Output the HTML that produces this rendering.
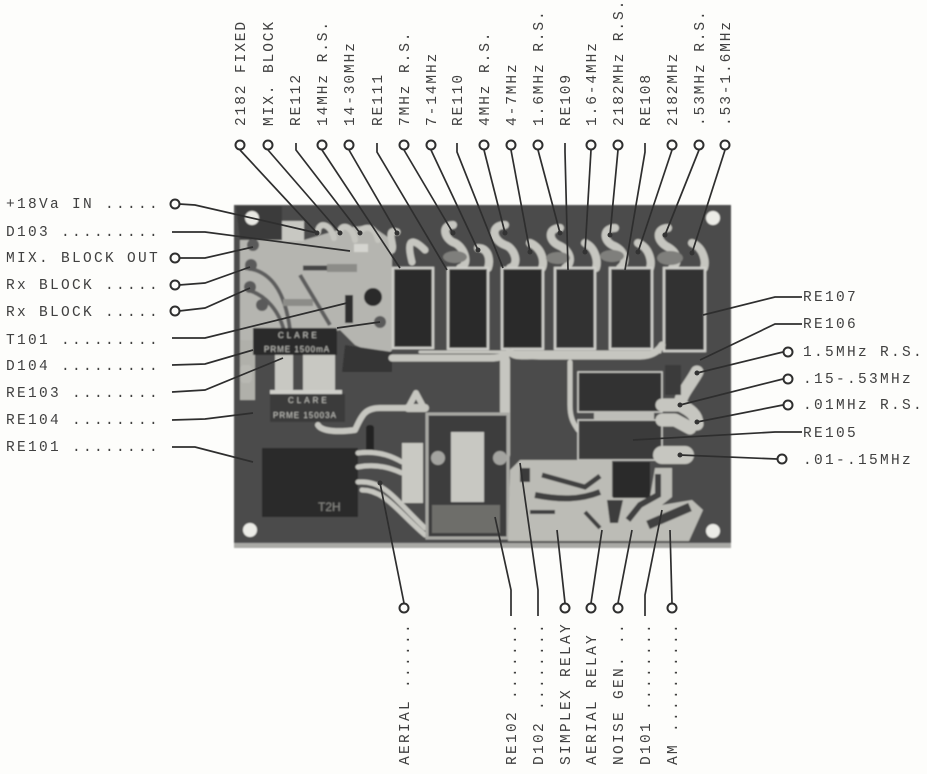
<!DOCTYPE html>
<html><head><meta charset="utf-8"><style>
html,body{margin:0;padding:0;background:#fdfdfb;width:927px;height:774px;overflow:hidden}
svg{display:block}
.t{font-family:"Liberation Mono",monospace;font-size:14.5px;fill:#404040;letter-spacing:2.3px}
.v{letter-spacing:1.9px}
.ln{fill:none;stroke:#2e2e2e;stroke-width:1.7}
.c{fill:#fdfdfb;stroke:#2e2e2e;stroke-width:2}
.dot{fill:#333}
.tr{fill:none;stroke:#c6c6c0;stroke-linecap:round;stroke-linejoin:round}
.rl{fill:#2b2b2b;stroke:#cfcfca;stroke-width:2.5}
</style></head><body>
<svg width="927" height="774" viewBox="0 0 927 774" xmlns="http://www.w3.org/2000/svg">
<defs><filter id="b" x="-5%" y="-5%" width="110%" height="110%"><feGaussianBlur stdDeviation="0.9"/></filter></defs>
<rect width="927" height="774" fill="#fdfdfb"/>
<g filter="url(#b)">
<!-- board -->
<rect x="234" y="205" width="497" height="343" fill="#4b4b4b"/>
<rect x="234" y="543" width="497" height="5" fill="#a9a9a5"/>
<!-- upper-left light area -->
<path d="M240 240 L275 232 L300 225 L304 240 L345 228 L370 225 L392 240 L392 350 L385 358 L355 345 L340 330 L240 358Z" fill="#b5b5b0"/>
<rect x="240" y="340" width="15" height="60" fill="#b0b0aa"/>
<path d="M236 206 H282 V240 H240Z" fill="#3a3a3a"/>
<rect x="282" y="221" width="22" height="20" fill="#c8c8c2"/>
<path d="M345 345 L392 352 V372 H342Z" fill="#363636"/>
<!-- arcs in upper left -->
<path d="M245 268 C270 270 285 290 290 330" fill="none" stroke="#5d5d5d" stroke-width="4"/>
<path d="M248 290 C265 295 280 310 285 335" fill="none" stroke="#5d5d5d" stroke-width="4"/>
<path d="M300 275 L330 325" fill="none" stroke="#5d5d5d" stroke-width="4"/>
<path d="M303 268 H355" stroke="#444" stroke-width="5"/>
<rect x="327" y="264" width="30" height="8" fill="#8c8c88"/>
<rect x="283" y="299" width="30" height="7" fill="#8c8c88"/>
<circle cx="373" cy="297" r="9" fill="#2a2a2a"/>
<rect x="345" y="295" width="8" height="28" fill="#2d2d2d"/>
<rect x="354" y="244" width="14" height="8" fill="#d5d5d0"/>
<!-- top pads -->
<path d="M318 232 C318 222 330 222 334 238 M340 232 C340 224 352 224 355 240 M360 232 C365 225 375 226 378 240" class="tr" stroke-width="6"/>
<path d="M397 232 C385 228 395 245 392 250 M425 250 C415 240 405 235 412 262" class="tr" stroke-width="7"/>
<path d="M453 225 C440 225 445 240 455 243 C465 248 470 265 460 268" class="tr" stroke-width="8"/>
<path d="M478 248 C490 248 490 262 488 268" class="tr" stroke-width="8"/>
<path d="M505 225 C490 225 492 240 505 245 C515 248 520 265 510 268" class="tr" stroke-width="8"/>
<path d="M530 243 C542 248 545 262 542 268" class="tr" stroke-width="8"/>
<path d="M560 228 C548 228 548 240 558 245 C570 250 574 262 565 268" class="tr" stroke-width="8"/>
<path d="M585 243 C596 248 598 262 596 268" class="tr" stroke-width="8"/>
<path d="M615 228 C603 228 603 240 612 245 C625 250 628 262 620 268" class="tr" stroke-width="8"/>
<path d="M638 243 C650 248 652 262 650 268" class="tr" stroke-width="8"/>
<path d="M668 228 C656 228 656 240 666 246 C678 252 680 262 672 268" class="tr" stroke-width="8"/>
<path d="M692 243 C704 248 706 262 704 268" class="tr" stroke-width="8"/>
<ellipse cx="455" cy="257" rx="12" ry="6" fill="#7f7f7b"/>
<ellipse cx="558" cy="258" rx="12" ry="6" fill="#7f7f7b"/>
<ellipse cx="612" cy="256" rx="12" ry="6" fill="#7f7f7b"/>
<ellipse cx="670" cy="258" rx="13" ry="7" fill="#7f7f7b"/>
<!-- relays -->
<rect class="rl" x="393" y="268" width="40" height="80"/>
<rect class="rl" x="448" y="268" width="40" height="81"/>
<rect class="rl" x="502" y="268" width="41" height="81"/>
<rect class="rl" x="555" y="268" width="40" height="81" style="fill:#333"/>
<rect class="rl" x="610" y="268" width="42" height="81" style="fill:#333"/>
<rect class="rl" x="664" y="268" width="41" height="83" style="fill:#333"/>
<!-- horizontal trace under relays -->
<path d="M392 358 H490 C500 358 505 356 510 352 C515 358 525 355 540 356 H640 C650 356 658 352 662 345" class="tr" stroke-width="7"/>
<path d="M420 352 H660" class="tr" stroke-width="3"/>
<path d="M505 360 V455" class="tr" stroke-width="10"/>
<path d="M570 362 V405 C570 420 575 425 578 430" class="tr" stroke-width="5"/>
<!-- Clare relays -->
<rect x="253" y="328" width="84" height="27" fill="#2c2c2c"/>
<path d="M275 355 H293 V392 H275Z M303 355 H335 V392 H303Z" fill="#c8c8c2"/>
<rect x="270" y="390" width="72" height="4" fill="#cfcfca"/>
<rect x="270" y="394" width="75" height="28" fill="#3a3a3a"/>
<rect x="240" y="365" width="12" height="18" rx="4" fill="#b8b8b2"/>
<text x="278" y="338" font-family="Liberation Sans" font-size="8" fill="#c8c8c2" letter-spacing="3">CLARE</text>
<text x="264" y="352" font-family="Liberation Sans" font-size="8" fill="#c8c8c2" letter-spacing="1">PRME 1500mA</text>
<text x="288" y="403" font-family="Liberation Sans" font-size="8" fill="#c8c8c2" letter-spacing="3">CLARE</text>
<text x="273" y="418" font-family="Liberation Sans" font-size="8" fill="#c8c8c2" letter-spacing="1">PRME 15003A</text>
<!-- curved trace -->
<path d="M318 425 C322 432 340 432 355 430 C362 415 365 408 380 408 H408 L416 393 L424 408" class="tr" stroke-width="6"/>
<path d="M408 408 H425" class="tr" stroke-width="8"/>
<!-- diode -->
<rect x="366" y="425" width="8" height="28" rx="3" fill="#242424"/>
<!-- RE101 -->
<rect x="262" y="448" width="96" height="69" fill="#2b2b2b"/>
<text x="318" y="511" font-family="Liberation Sans" font-size="12" fill="#8a8a86">T2H</text>
<!-- wires -->
<path d="M358 453 C380 450 395 458 402 462 M358 467 C380 463 395 470 402 473 M358 482 C385 480 395 500 425 528 M362 490 C385 490 398 512 425 535" class="tr" stroke-width="5"/>
<rect x="402" y="443" width="21" height="60" fill="#c9c9c3"/>
<!-- module -->
<rect x="427" y="414" width="81" height="124" fill="#3c3c3c" stroke="#a9a9a4" stroke-width="3"/>
<rect x="451" y="432" width="33" height="70" fill="#c8c8c2"/>
<circle cx="438" cy="458" r="7" fill="#a4a4a0"/><circle cx="500" cy="458" r="7" fill="#a4a4a0"/>
<rect x="432" y="505" width="68" height="28" fill="#6e6e6a"/>
<!-- right relays -->
<rect x="578" y="372" width="84" height="40" fill="#333" stroke="#cfcfca" stroke-width="1.5"/>
<rect x="578" y="420" width="84" height="40" fill="#3a3a3a" stroke="#cfcfca" stroke-width="1.5"/>
<rect x="594" y="412" width="60" height="8" fill="#bdbdb8"/>
<!-- right pads -->
<path d="M697 372 C690 385 680 395 680 405 C690 410 697 415 697 424 M662 405 H682 M662 420 H675 L690 428" class="tr" stroke-width="13"/>
<path d="M662 455 H685" class="tr" stroke-width="18"/>
<rect x="665" y="365" width="16" height="30" fill="#3b3b3b"/>
<!-- lower right light zone -->
<path d="M508 541 L510 470 L520 460 H612 V497 H650 L655 468 H672 V497 L662 505 L692 500 L703 510 L689 541Z" fill="#bcbcb6"/>
<rect x="613" y="462" width="37" height="36" fill="#2b2b2b"/>
<path d="M607 500 H623 L618 523 H610Z" fill="#3c3c3c"/>
<path d="M658 474 V495 L640 505 L628 520" fill="none" stroke="#3f3f3f" stroke-width="6"/>
<path d="M542 475 L585 487 L600 476" fill="none" stroke="#3f3f3f" stroke-width="5"/>
<path d="M535 495 C560 500 580 500 600 492" fill="none" stroke="#3f3f3f" stroke-width="6"/>
<path d="M648 525 L690 507" fill="none" stroke="#3f3f3f" stroke-width="9"/>
<path d="M530 512 H555 M585 512 L600 528" fill="none" stroke="#3f3f3f" stroke-width="4"/>
<rect x="520" y="468" width="10" height="14" fill="#3a3a3a"/>
<!-- holes -->
<circle cx="252" cy="218" r="7" fill="#e8e8e3"/>
<circle cx="713" cy="218" r="7" fill="#ecece7"/>
<circle cx="250" cy="530" r="7" fill="#ecece7"/>
<circle cx="713" cy="531" r="7" fill="#ecece7"/>
<!-- left pads -->
<circle cx="253" cy="245" r="6" fill="#5a5a5a"/><circle cx="251" cy="265" r="6" fill="#5a5a5a"/><circle cx="250" cy="287" r="6" fill="#5a5a5a"/><circle cx="262" cy="305" r="6" fill="#5a5a5a"/>
<circle cx="380" cy="322" r="6" fill="#5a5a5a"/>
</g>
<g class="ln">
<path d="M240 150L317 233"/><path d="M268 150L340 233"/><path d="M296 143V150L360 233"/><path d="M322 150L400 268"/><path d="M349 150L397 233"/><path d="M377 143V152L447 270"/><path d="M404 150L453 233"/><path d="M431 150L478 250"/><path d="M457 143V152L503 268"/><path d="M484 150L505 233"/><path d="M511 150L530 252"/><path d="M538 150L560 233"/><path d="M565 143V152L568 270"/><path d="M591 150L585 252"/><path d="M618 150L610 235"/><path d="M645 143V152L625 270"/><path d="M672 150L638 252"/><path d="M699 150L665 235"/><path d="M725 150L692 253"/>
<path d="M179 204L195 205L317 233"/><path d="M172 232H205L350 251"/><path d="M179 258H205L253 247"/><path d="M179 285L205 283L250 267"/><path d="M179 311L205 308L250 288"/><path d="M172 338H205L347 303"/><path d="M172 365L205 364L253 350M337 328L380 322"/><path d="M172 392L205 390L283 358"/><path d="M172 420L205 419L253 413"/><path d="M172 447H195L253 462"/>
<path d="M802 297H775L703 315"/><path d="M802 324H775L700 360"/><path d="M783 352L697 373"/><path d="M783 379L680 405"/><path d="M783 405L697 422"/><path d="M802 432H775L633 440"/><path d="M777 459L680 455"/>
<path d="M404 603L380 483"/><path d="M511 616V590L495 517"/><path d="M538 616V590L520 463"/><path d="M565 603L557 530"/><path d="M591 603L602 530"/><path d="M618 603L632 530"/><path d="M645 616V595L662 510"/><path d="M672 603L670 530"/>
</g>
<g class="dot">
<circle cx="317" cy="233" r="2.5"/><circle cx="340" cy="233" r="2.5"/><circle cx="360" cy="233" r="2.5"/><circle cx="397" cy="233" r="2.5"/><circle cx="453" cy="233" r="2.5"/><circle cx="478" cy="250" r="2.5"/><circle cx="505" cy="233" r="2.5"/><circle cx="530" cy="252" r="2.5"/><circle cx="560" cy="233" r="2.5"/><circle cx="585" cy="252" r="2.5"/><circle cx="610" cy="235" r="2.5"/><circle cx="638" cy="252" r="2.5"/><circle cx="665" cy="235" r="2.5"/><circle cx="692" cy="253" r="2.5"/><circle cx="697" cy="373" r="2.5"/><circle cx="680" cy="405" r="2.5"/><circle cx="697" cy="422" r="2.5"/><circle cx="680" cy="455" r="2.5"/><circle cx="380" cy="483" r="2.5"/>
</g>
<g class="c">
<circle cx="240" cy="145" r="4.5"/><circle cx="268" cy="145" r="4.5"/><circle cx="322" cy="145" r="4.5"/><circle cx="349" cy="145" r="4.5"/><circle cx="404" cy="145" r="4.5"/><circle cx="431" cy="145" r="4.5"/><circle cx="484" cy="145" r="4.5"/><circle cx="511" cy="145" r="4.5"/><circle cx="538" cy="145" r="4.5"/><circle cx="591" cy="145" r="4.5"/><circle cx="618" cy="145" r="4.5"/><circle cx="672" cy="145" r="4.5"/><circle cx="699" cy="145" r="4.5"/><circle cx="725" cy="145" r="4.5"/>
<circle cx="175" cy="204" r="4.5"/><circle cx="175" cy="258" r="4.5"/><circle cx="175" cy="285" r="4.5"/><circle cx="175" cy="311" r="4.5"/>
<circle cx="788" cy="352" r="4.5"/><circle cx="788" cy="379" r="4.5"/><circle cx="788" cy="405" r="4.5"/><circle cx="782" cy="459" r="4.5"/>
<circle cx="404" cy="608" r="4.5"/><circle cx="565" cy="608" r="4.5"/><circle cx="591" cy="608" r="4.5"/><circle cx="618" cy="608" r="4.5"/><circle cx="672" cy="608" r="4.5"/>
</g>
<g class="t">
<text x="6" y="208">+18Va IN .....</text>
<text x="6" y="236">D103 .........</text>
<text x="6" y="262">MIX. BLOCK OUT</text>
<text x="6" y="289">Rx BLOCK .....</text>
<text x="6" y="316">Rx BLOCK .....</text>
<text x="6" y="344">T101 .........</text>
<text x="6" y="370">D104 .........</text>
<text x="6" y="397">RE103 ........</text>
<text x="6" y="424">RE104 ........</text>
<text x="6" y="451">RE101 ........</text>
<text x="803" y="301">RE107</text>
<text x="803" y="328">RE106</text>
<text x="803" y="356">1.5MHz R.S.</text>
<text x="803" y="383">.15-.53MHz</text>
<text x="803" y="409">.01MHz R.S.</text>
<text x="803" y="437">RE105</text>
<text x="803" y="464">.01-.15MHz</text>
</g>
<g class="t v">
<text transform="translate(245,126) rotate(-90)">2182 FIXED</text>
<text transform="translate(273,126) rotate(-90)">MIX. BLOCK</text>
<text transform="translate(300,126) rotate(-90)">RE112</text>
<text transform="translate(327,126) rotate(-90)">14MHz R.S.</text>
<text transform="translate(354,126) rotate(-90)">14-30MHz</text>
<text transform="translate(382,126) rotate(-90)">RE111</text>
<text transform="translate(409,126) rotate(-90)">7MHz R.S.</text>
<text transform="translate(436,126) rotate(-90)">7-14MHz</text>
<text transform="translate(462,126) rotate(-90)">RE110</text>
<text transform="translate(489,126) rotate(-90)">4MHz R.S.</text>
<text transform="translate(516,126) rotate(-90)">4-7MHz</text>
<text transform="translate(543,126) rotate(-90)">1.6MHz R.S.</text>
<text transform="translate(570,126) rotate(-90)">RE109</text>
<text transform="translate(596,126) rotate(-90)">1.6-4MHz</text>
<text transform="translate(623,126) rotate(-90)">2182MHz R.S.</text>
<text transform="translate(650,126) rotate(-90)">RE108</text>
<text transform="translate(677,126) rotate(-90)">2182MHz</text>
<text transform="translate(704,126) rotate(-90)">.53MHz R.S.</text>
<text transform="translate(730,126) rotate(-90)">.53-1.6MHz</text>
</g>
<g class="t">
<text transform="translate(409,765) rotate(-90)">AERIAL ......</text>
<text transform="translate(516,765) rotate(-90)">RE102 .......</text>
<text transform="translate(543,765) rotate(-90)">D102 ........</text>
<text transform="translate(570,765) rotate(-90)">SIMPLEX RELAY</text>
<text transform="translate(596,765) rotate(-90)">AERIAL RELAY</text>
<text transform="translate(623,765) rotate(-90)">NOISE GEN. ..</text>
<text transform="translate(650,765) rotate(-90)">D101 ........</text>
<text transform="translate(677,765) rotate(-90)">AM ..........</text>
</g>
</svg>
</body></html>
